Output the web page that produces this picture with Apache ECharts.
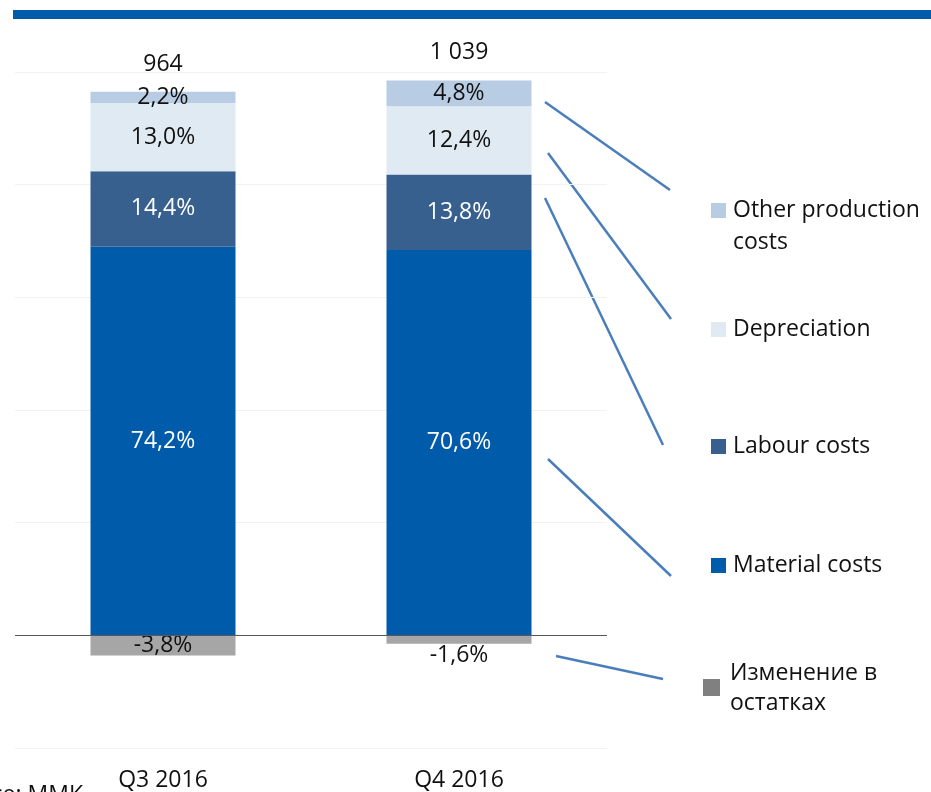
<!DOCTYPE html>
<html>
<head>
<meta charset="utf-8">
<script src="https://cdn.jsdelivr.net/npm/echarts@6/dist/echarts.min.js"></script>
<style>
html, body { margin: 0; padding: 0; background: #fff; }
#costChart { width: 931px; height: 792px; }
</style>
</head>
<body>
<div id="costChart"></div>
<script>
// quarters on the x axis
const quarters = ['Q3 2016', 'Q4 2016'];
// segment heights as drawn (axis units)
const materialCosts = [690, 684];
const labourCosts = [134, 134];
const depreciation = [121, 121];
const otherCosts = [20, 46];
const stockChange = [-36, -15];
// texts printed on the segments
const materialLabels = ['74,2%', '70,6%'];
const labourLabels = ['14,4%', '13,8%'];
const deprLabels = ['13,0%', '12,4%'];
const otherLabels = ['2,2%', '4,8%'];
const changeLabels = ['-3,8%', '-1,6%'];
const totals = ['964', '1 039'];

const FONT = '"Open Sans", "Noto Sans", sans-serif';
const FS = 23;

function seg(name, values, texts, color, textColor) {
	return {
		name: name,
		type: 'bar',
		stack: 'cost',
		barWidth: 145,
		data: values,
		itemStyle: { color: color },
		label: {
			show: true,
			position: 'inside',
			color: textColor,
			fontSize: FS,
			fontFamily: FONT,
			formatter: function (p) { return texts[p.dataIndex]; }
		}
	};
}

const series = [
	seg('Material costs', materialCosts, materialLabels, '#005BAA', '#fff'),
	seg('Labour costs', labourCosts, labourLabels, '#37608F', '#fff'),
	seg('Depreciation', depreciation, deprLabels, '#DFEAF2', '#111'),
	seg('Other production costs', otherCosts, otherLabels, '#B8CCE4', '#111'),
	seg('Изменение в остатках', stockChange, changeLabels, '#A6A6A6', '#111')
];
// Q4 change label sits under the bar
series[4].data = stockChange.map(function (v, i) {
	return i === 1 ? { value: v, label: { position: 'bottom', distance: 0 } } : v;
});
series[4].markLine = {
	silent: true,
	symbol: 'none',
	label: { show: false },
	lineStyle: { color: '#595959', width: 1, type: 'solid' },
	data: [{ yAxis: 0 }]
};
// totals above the bars, placed at the top of each stack
const stackTops = quarters.map(function (q, i) {
	return materialCosts[i] + labourCosts[i] + depreciation[i] + otherCosts[i];
});
series.push({
	name: 'total',
	type: 'scatter',
	symbolSize: 0,
	itemStyle: { color: '#111', opacity: 1 },
	data: stackTops,
	label: {
		show: true,
		position: 'top',
		distance: 16,
		color: '#111',
		opacity: 1,
		fontSize: FS,
		fontFamily: FONT,
		formatter: function (p) { return totals[p.dataIndex]; }
	}
});

// legend entries: [label, colour, square x, square y, size, text top, line height]
const legendItems = [
	['Other production\ncosts', '#B8CCE4', 711, 203, 15, 194, 32],
	['Depreciation', '#DFEAF2', 711, 322, 15, 313, 32],
	['Labour costs', '#37608F', 711, 439, 15, 430, 32],
	['Material costs', '#005BAA', 711, 558, 15, 549, 32],
	['Изменение в\nостатках', '#808080', 703, 679, 17, 658, 30]
];
// leader lines from bars to legend
const leaders = [
	[545, 102, 670, 190],
	[548, 153, 671, 319],
	[545, 198, 663, 445],
	[548, 459, 671, 576],
	[556, 656, 663, 679]
];

const graphic = [
	{ type: 'rect', shape: { x: 13, y: 10, width: 918, height: 9 }, style: { fill: '#005BAA' } },
	{ type: 'text', x: 83, y: 784, style: { text: 'Source: MMK', font: FS + 'px ' + FONT, fill: '#111', align: 'right', verticalAlign: 'top' } }
];
legendItems.forEach(function (it) {
	graphic.push({ type: 'rect', shape: { x: it[2], y: it[3], width: it[4], height: it[4] }, style: { fill: it[1] } });
	graphic.push({
		type: 'text',
		x: it[2] + it[4] + (it[4] === 17 ? 10 : 7),
		y: it[5],
		style: {
			text: it[0],
			font: FS + 'px ' + FONT,
			fill: '#111',
			lineHeight: it[6],
			verticalAlign: 'top'
		}
	});
});
leaders.forEach(function (l) {
	graphic.push({
		type: 'line',
		shape: { x1: l[0], y1: l[1], x2: l[2], y2: l[3] },
		style: { stroke: '#4A7EBB', lineWidth: 2.5 }
	});
});

const chart = echarts.init(document.getElementById('costChart'));
chart.setOption({
	animation: false,
	grid: { left: 15, right: 324, top: 72, bottom: 44 },
	xAxis: {
		type: 'category',
		data: quarters,
		axisLine: { show: false, onZero: false },
		axisTick: { show: false },
		axisLabel: { margin: 21, fontSize: FS, fontFamily: FONT, color: '#111' }
	},
	yAxis: {
		type: 'value',
		min: -200,
		max: 1000,
		interval: 200,
		axisLabel: { show: false },
		axisLine: { show: false },
		axisTick: { show: false },
		splitLine: { lineStyle: { color: '#F2F2F2', width: 1 } }
	},
	series: series,
	graphic: graphic
});
window.addEventListener('resize', function () {
	chart.resize();
});
</script>
</body>
</html>
